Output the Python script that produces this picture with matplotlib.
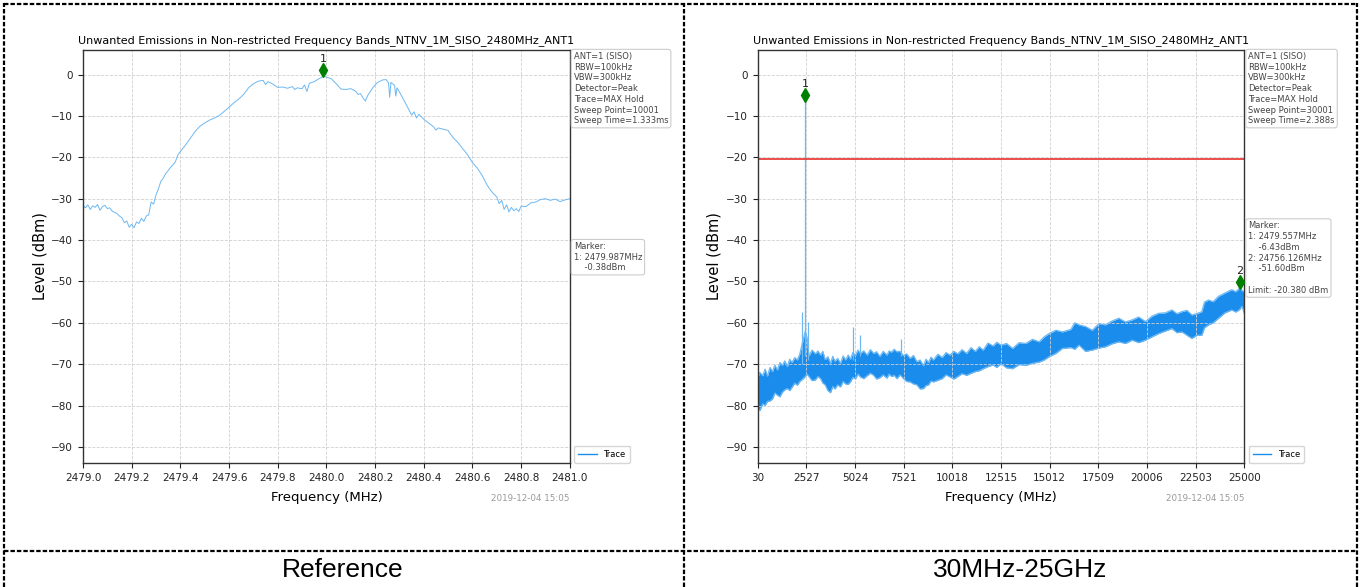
import matplotlib
matplotlib.use('Agg')
import matplotlib.pyplot as plt
from matplotlib.lines import Line2D
from matplotlib.transforms import offset_copy

plt.rcParams['font.family'] = ['DejaVu Sans']

# 左图: 2479-2481 MHz 频谱
left_freq = [2479.000, 2479.010, 2479.020, 2479.030, 2479.040, 2479.050, 2479.060, 2479.070,
             2479.080, 2479.090, 2479.100, 2479.110, 2479.120, 2479.130, 2479.140, 2479.150,
             2479.160, 2479.170, 2479.180, 2479.190, 2479.200, 2479.210, 2479.220, 2479.230,
             2479.240, 2479.250, 2479.260, 2479.270, 2479.280, 2479.290, 2479.300, 2479.310,
             2479.320, 2479.330, 2479.340, 2479.350, 2479.360, 2479.370, 2479.380, 2479.390,
             2479.400, 2479.420, 2479.440, 2479.460, 2479.480, 2479.500, 2479.520, 2479.540,
             2479.560, 2479.580, 2479.600, 2479.620, 2479.640, 2479.660, 2479.680, 2479.700,
             2479.720, 2479.740, 2479.750, 2479.760, 2479.780, 2479.800, 2479.820, 2479.840,
             2479.860, 2479.870, 2479.880, 2479.900, 2479.910, 2479.920, 2479.930, 2479.950,
             2479.970, 2479.987, 2480.000, 2480.020, 2480.040, 2480.060, 2480.080, 2480.100,
             2480.120, 2480.130, 2480.140, 2480.150, 2480.160, 2480.170, 2480.190, 2480.210,
             2480.230, 2480.245, 2480.255, 2480.260, 2480.265, 2480.280, 2480.285, 2480.290,
             2480.300, 2480.320, 2480.340, 2480.350, 2480.360, 2480.370, 2480.380, 2480.400,
             2480.420, 2480.440, 2480.450, 2480.460, 2480.480, 2480.500, 2480.510, 2480.520,
             2480.540, 2480.560, 2480.580, 2480.600, 2480.620, 2480.640, 2480.660, 2480.680,
             2480.700, 2480.710, 2480.720, 2480.730, 2480.740, 2480.750, 2480.760, 2480.770,
             2480.780, 2480.790, 2480.800, 2480.820, 2480.840, 2480.860, 2480.880, 2480.900,
             2480.920, 2480.940, 2480.960, 2480.980, 2481.000]
left_level = [-31.6, -32.2, -31.5, -32.6, -31.7, -32.1, -31.4, -32.8,
              -31.9, -31.6, -32.4, -32.2, -33.0, -33.3, -33.6, -34.2,
              -34.6, -35.8, -35.4, -36.9, -36.2, -37.0, -35.6, -36.0,
              -34.7, -35.5, -34.2, -33.9, -30.8, -31.3, -29.1, -27.6,
              -25.8, -25.0, -23.9, -23.2, -22.4, -21.8, -21.0, -19.4,
              -18.6, -17.1, -15.5, -13.8, -12.5, -11.7, -11.0, -10.5,
              -9.9, -8.9, -7.9, -6.8, -5.9, -4.8, -3.2, -2.2,
              -1.6, -1.4, -2.4, -1.7, -2.3, -3.1, -3.0, -3.3,
              -2.9, -3.6, -3.2, -3.4, -2.5, -4.1, -2.1, -1.7,
              -1.0, -0.38, -0.6, -1.0, -2.2, -3.5, -3.6, -3.4,
              -4.0, -4.8, -4.6, -5.6, -6.4, -5.0, -3.2, -1.9,
              -1.3, -1.2, -2.0, -5.5, -1.9, -2.6, -5.2, -3.2,
              -4.2, -6.4, -8.6, -9.8, -9.0, -10.5, -9.6, -10.8,
              -11.7, -12.6, -13.4, -12.9, -13.2, -13.5, -14.4, -15.2,
              -16.4, -17.9, -19.4, -21.3, -22.6, -24.4, -26.7, -28.4,
              -29.6, -31.2, -30.4, -32.6, -31.5, -33.2, -32.1, -32.9,
              -32.4, -33.1, -31.8, -31.9, -31.0, -30.8, -30.2, -30.0,
              -30.4, -30.1, -30.7, -30.3, -30.0]
left_marker_freq = [2479.987]
left_marker_level = [-0.38]
left_xticks = [2479.0, 2479.2, 2479.4, 2479.6, 2479.8, 2480.0, 2480.2, 2480.4, 2480.6, 2480.8, 2481.0]

# 右图: 30MHz-25GHz 噪声带 (上下包络)
right_freq = [30, 150, 300, 420, 541, 670, 800, 920, 1051, 1180,
              1300, 1430, 1562, 1680, 1800, 1940, 2072, 2200, 2350, 2480,
              2560, 2668, 2830, 3000, 3130, 3264, 3380, 3500, 3640, 3774,
              3890, 4000, 4140, 4285, 4420, 4550, 4680, 4796, 4920, 5050,
              5180, 5306, 5480, 5650, 5820, 5987, 6140, 6300, 6480, 6668,
              6780, 6900, 7040, 7178, 7340, 7500, 7680, 7859, 8030, 8200,
              8370, 8540, 8670, 8800, 8930, 9051, 9280, 9500, 9700, 9902,
              10100, 10300, 10520, 10753, 10980, 11200, 11400, 11604, 11850, 12114,
              12300, 12515, 12800, 13111, 13450, 13792, 14130, 14473, 14730, 14984,
              15330, 15666, 16100, 16300, 16517, 16850, 17198, 17540, 17879, 18200,
              18561, 18900, 19242, 19580, 19923, 20260, 20604, 20940, 21285, 21540,
              21796, 22050, 22307, 22560, 22818, 22950, 23159, 23400, 23670, 24000,
              24351, 24560, 24756, 24880, 25000]
right_upper = [-73.5, -72.0, -72.8, -71.2, -72.9, -70.8, -71.8, -70.2, -71.4, -69.6,
               -70.3, -69.2, -70.6, -68.8, -69.6, -68.4, -69.0, -67.5, -64.5, -62.0,
               -63.5, -68.0, -66.6, -67.5, -66.8, -67.8, -66.9, -68.9, -68.2, -69.8,
               -68.1, -69.3, -68.6, -69.8, -68.0, -69.0, -67.8, -68.8, -67.2, -67.9,
               -66.6, -67.4, -66.8, -67.8, -66.5, -67.4, -67.0, -68.1, -66.9, -67.8,
               -66.8, -67.1, -66.4, -67.0, -66.9, -67.9, -67.5, -68.6, -67.9, -69.4,
               -69.0, -70.4, -68.8, -69.6, -68.3, -69.0, -67.6, -68.4, -67.2, -67.8,
               -66.9, -67.5, -66.5, -67.4, -66.0, -66.9, -65.8, -66.6, -64.9, -65.6,
               -64.7, -65.4, -65.0, -66.2, -64.8, -65.0, -64.0, -64.6, -63.4, -62.6,
               -61.8, -62.2, -61.6, -60.0, -60.5, -60.9, -61.8, -60.2, -60.5, -59.6,
               -58.9, -59.8, -59.3, -58.6, -59.7, -58.4, -57.7, -57.6, -56.9, -57.8,
               -57.3, -57.0, -58.1, -57.8, -57.3, -55.0, -54.5, -54.9, -53.6, -52.8,
               -52.0, -52.5, -51.6, -52.2, -52.6]
right_lower = [-80.6, -81.2, -79.6, -80.0, -79.0, -78.9, -78.4, -77.0, -77.5, -77.9,
               -76.8, -76.2, -75.9, -76.4, -75.6, -74.6, -75.1, -74.2, -73.6, -73.0,
               -72.4, -73.0, -74.0, -73.8, -73.0, -73.5, -74.6, -75.0, -76.4, -76.9,
               -75.4, -76.0, -75.0, -75.5, -74.2, -74.8, -74.9, -74.3, -73.2, -73.6,
               -72.4, -73.1, -73.5, -72.8, -72.2, -72.7, -73.6, -73.3, -72.6, -73.4,
               -72.4, -73.0, -72.7, -73.5, -72.6, -73.4, -74.2, -74.3, -74.8, -75.0,
               -76.0, -75.9, -75.2, -75.0, -74.1, -74.3, -73.9, -73.5, -72.6, -73.1,
               -73.6, -73.0, -72.3, -72.7, -72.2, -71.8, -71.6, -71.1, -70.6, -70.2,
               -70.8, -69.9, -70.9, -71.1, -70.1, -70.3, -69.8, -69.5, -69.0, -68.2,
               -67.4, -66.2, -66.0, -66.4, -65.4, -66.9, -66.6, -66.1, -65.8, -65.1,
               -64.6, -65.0, -64.2, -64.8, -64.2, -63.4, -62.6, -62.0, -61.4, -62.4,
               -62.2, -63.0, -63.8, -63.0, -63.0, -61.2, -60.5, -60.0, -58.9, -57.6,
               -56.9, -57.4, -56.8, -56.0, -57.8]
spike_freq = [2328, 2479.557, 2617, 4932, 5272, 7383]
spike_base = [-70.0, -68.0, -69.0, -69.0, -68.0, -68.0]
spike_top = [-57.3, -6.43, -59.7, -61.1, -63.0, -63.8]
right_marker_freq = [2479.557, 24756.126]
right_marker_level = [-6.43, -51.60]
limit_level = -20.38
right_xticks = [30, 2527, 5024, 7521, 10018, 12515, 15012, 17509, 20006, 22503, 25000]

title = 'Unwanted Emissions in Non-restricted Frequency Bands_NTNV_1M_SISO_2480MHz_ANT1'
left_info = 'ANT=1 (SISO)\nRBW=100kHz\nVBW=300kHz\nDetector=Peak\nTrace=MAX Hold\nSweep Point=10001\nSweep Time=1.333ms'
right_info = 'ANT=1 (SISO)\nRBW=100kHz\nVBW=300kHz\nDetector=Peak\nTrace=MAX Hold\nSweep Point=30001\nSweep Time=2.388s'
left_marker_txt = 'Marker:\n1: 2479.987MHz\n    -0.38dBm'
right_marker_txt = 'Marker:\n1: 2479.557MHz\n    -6.43dBm\n2: 24756.126MHz\n    -51.60dBm\n\nLimit: -20.380 dBm'
stamp = '2019-12-04 15:05'

fig = plt.figure(figsize=(13.6, 5.87), dpi=100)
fig.patch.set_facecolor('white')

trace_color = '#1a8cec'
light_color = '#6db8f2'
box = dict(boxstyle='round,pad=0.3', facecolor='white', edgecolor='#cccccc', linewidth=0.8)


def style_axes(ax, xticks, xlim):
    ax.set_xlim(xlim)
    ax.set_ylim(-93.9, 6.0)
    ax.set_xticks(xticks)
    ax.set_yticks([0, -10, -20, -30, -40, -50, -60, -70, -80, -90])
    ax.grid(True, linestyle='--', color='#d0d0d0', linewidth=0.6)
    ax.tick_params(labelsize=7.5, colors='#222222', length=3.5, width=0.8)
    for sp in ax.spines.values():
        sp.set_color('#333333')
        sp.set_linewidth(1.0)
    ax.set_title(title, fontsize=8, pad=5)
    ax.set_xlabel('Frequency (MHz)', fontsize=9.5, labelpad=6)
    ax.set_ylabel('Level (dBm)', fontsize=10.5, labelpad=3)
    ax.text(1.0, -0.075, stamp, transform=ax.transAxes, ha='right', va='top',
            fontsize=6.3, color='#999999')


def draw_markers(ax, freqs, levels):
    # 标记点画在数据点上方少许
    tr = offset_copy(ax.transData, fig=fig, x=0, y=4.4, units='points')
    ax.plot(freqs, levels, linestyle='none', marker='d', color='green',
            markersize=7, transform=tr, zorder=5, clip_on=False)
    for i, (f, l) in enumerate(zip(freqs, levels), 1):
        ax.annotate(str(i), (f, l), xytext=(0, 8.5), textcoords='offset points',
                    ha='center', va='bottom', fontsize=8, color='#222222')


# 左图
ax1 = fig.add_axes([0.061, 0.2112, 0.358, 0.704])
ax1.plot(left_freq, left_level, color=light_color, linewidth=0.7)
style_axes(ax1, left_xticks, (2479.0, 2481.0))
ax1.set_xticklabels(['%.1f' % v for v in left_xticks])
draw_markers(ax1, left_marker_freq, left_marker_level)
ax1.text(1.008, 0.995, left_info, transform=ax1.transAxes, ha='left', va='top',
         fontsize=6, color='#444444', bbox=box, linespacing=1.25)
ax1.text(1.008, 0.535, left_marker_txt, transform=ax1.transAxes, ha='left', va='top',
         fontsize=6, color='#444444', bbox=box, linespacing=1.25)
ax1.legend([Line2D([], [], color=trace_color, linewidth=1)], ['Trace'], loc='lower left',
           bbox_to_anchor=(1.0, -0.01), fontsize=6, frameon=True, edgecolor='#cccccc',
           handlelength=2.2, borderpad=0.5)

# 右图
ax2 = fig.add_axes([0.557, 0.2112, 0.358, 0.704])
ax2.fill_between(right_freq, right_lower, right_upper, color=trace_color, linewidth=0)
ax2.plot(right_freq, right_upper, color=light_color, linewidth=0.9)
ax2.plot(right_freq, right_lower, color=light_color, linewidth=0.9)
ax2.vlines(spike_freq, spike_base, spike_top, color=light_color, linewidth=0.9)
ax2.axhline(limit_level, color='#e8302a', linewidth=1.2)
style_axes(ax2, right_xticks, (30, 25000))
draw_markers(ax2, right_marker_freq, right_marker_level)
ax2.text(1.008, 0.995, right_info, transform=ax2.transAxes, ha='left', va='top',
         fontsize=6, color='#444444', bbox=box, linespacing=1.25)
ax2.text(1.008, 0.585, right_marker_txt, transform=ax2.transAxes, ha='left', va='top',
         fontsize=6, color='#444444', bbox=box, linespacing=1.25)
ax2.legend([Line2D([], [], color=trace_color, linewidth=1)], ['Trace'], loc='lower left',
           bbox_to_anchor=(1.0, -0.01), fontsize=6, frameon=True, edgecolor='#cccccc',
           handlelength=2.2, borderpad=0.5)

# 表格虚线边框
W, H = 1360.0, 587.0
dash = dict(color='black', linewidth=1.6, linestyle=(0, (2.0, 0.9)))
for x in [3.5, 683.5, 1356.5]:
    fig.add_artist(Line2D([x / W, x / W], [0, 1 - 3 / H], **dash))
for y in [3.5, 550.5]:
    fig.add_artist(Line2D([3.5 / W, 1356.5 / W], [1 - y / H, 1 - y / H], **dash))

# 表格标题
fig.text(343 / W, 1 - 570 / H, 'Reference', ha='center', va='center',
         fontsize=19, family='Liberation Sans')
fig.text(1020 / W, 1 - 570 / H, '30MHz-25GHz', ha='center', va='center',
         fontsize=19, family='Liberation Sans')

fig.savefig('out.png', dpi=100)
